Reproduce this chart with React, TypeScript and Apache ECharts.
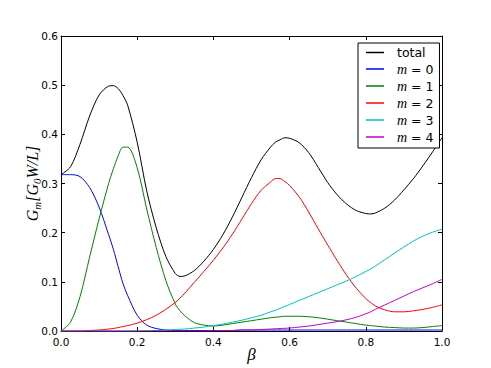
import React, { useEffect, useRef } from "react";
import * as echarts from "echarts";

const beta = [
  0, 0.025, 0.05, 0.075, 0.1, 0.125, 0.1375, 0.15, 0.1625, 0.175, 0.2, 0.225, 0.25, 0.275,
  0.3, 0.3125, 0.325, 0.35, 0.375, 0.4, 0.425, 0.45, 0.475, 0.5, 0.525, 0.55, 0.5625, 0.575,
  0.5875, 0.6, 0.625, 0.65, 0.675, 0.7, 0.725, 0.75, 0.775, 0.8, 0.8125, 0.825, 0.85, 0.875,
  0.9, 0.925, 0.95, 0.975, 1.0,
];

const total = [
  0.318, 0.334, 0.38, 0.437, 0.48, 0.498, 0.499, 0.493, 0.479, 0.459, 0.384, 0.285, 0.21,
  0.152, 0.117, 0.111, 0.112, 0.123, 0.142, 0.166, 0.196, 0.232, 0.272, 0.312, 0.348, 0.374,
  0.384, 0.389, 0.393, 0.392, 0.383, 0.363, 0.333, 0.302, 0.277, 0.258, 0.245, 0.239, 0.238,
  0.24, 0.25, 0.266, 0.287, 0.31, 0.336, 0.364, 0.393,
];

const m0 = [
  0.318, 0.318, 0.314, 0.292, 0.252, 0.196, 0.166, 0.131, 0.097, 0.072, 0.032, 0.012, 0.005,
  0.002, 0.001, 0.001, 0.001, 0.001, 0.001, 0.001, 0.001, 0.001, 0.002, 0.002, 0.002, 0.002,
  0.002, 0.002, 0.002, 0.002, 0.002, 0.002, 0.002, 0.002, 0.002, 0.002, 0.002, 0.002, 0.002,
  0.002, 0.002, 0.002, 0.002, 0.002, 0.002, 0.002, 0.002,
];

const m1 = [
  0, 0.018, 0.07, 0.15, 0.228, 0.3, 0.33, 0.356, 0.374, 0.374, 0.332, 0.248, 0.17, 0.103,
  0.055, 0.041, 0.031, 0.017, 0.012, 0.01, 0.012, 0.015, 0.018, 0.021, 0.024, 0.027, 0.028,
  0.029, 0.03, 0.03, 0.03, 0.029, 0.027, 0.024, 0.021, 0.018, 0.015, 0.012, 0.011, 0.01,
  0.008, 0.007, 0.006, 0.006, 0.007, 0.009, 0.011,
];

const m2 = [
  0, 0, 0, 0.001, 0.002, 0.004, 0.005, 0.007, 0.009, 0.011, 0.016, 0.023, 0.032, 0.044,
  0.058, 0.067, 0.077, 0.099, 0.121, 0.144, 0.169, 0.197, 0.228, 0.259, 0.286, 0.303, 0.31,
  0.31, 0.304, 0.296, 0.273, 0.242, 0.208, 0.175, 0.143, 0.113, 0.087, 0.066, 0.058, 0.051,
  0.043, 0.039, 0.039, 0.041, 0.044, 0.048, 0.053,
];

const m3 = [
  0, 0, 0, 0, 0, 0, 0, 0, 0, 0, 0, 0.0005, 0.001, 0.002, 0.003, 0.0035, 0.004, 0.006, 0.008,
  0.011, 0.014, 0.018, 0.022, 0.027, 0.032, 0.039, 0.042, 0.046, 0.05, 0.054, 0.062, 0.07,
  0.078, 0.086, 0.094, 0.102, 0.111, 0.121, 0.126, 0.132, 0.145, 0.158, 0.171, 0.183, 0.193,
  0.201, 0.207,
];

const m4 = [
  0, 0, 0, 0, 0, 0, 0, 0, 0, 0, 0, 0, 0, 0, 0, 0, 0, 0, 0, 0.0005, 0.001, 0.001, 0.002, 0.002,
  0.003, 0.004, 0.0045, 0.005, 0.0055, 0.006, 0.008, 0.01, 0.013, 0.016, 0.019, 0.023, 0.028,
  0.035, 0.039, 0.044, 0.053, 0.062, 0.071, 0.08, 0.088, 0.096, 0.105,
];

const seriesNames = ["total", "m = 0", "m = 1", "m = 2", "m = 3", "m = 4"];
const seriesValues = [total, m0, m1, m2, m3, m4];
const seriesColors = ["#000000", "#0000ff", "#008000", "#ff0000", "#00bfbf", "#bf00bf"];

const xTicks = { min: 0, max: 1, interval: 0.2 };
const yTicks = { min: 0, max: 0.6, interval: 0.1 };

const SANS = "'DejaVu Sans', sans-serif";
const SERIF = "'Liberation Serif', 'DejaVu Serif', serif";

export default function App() {
  const ref = useRef<HTMLDivElement>(null);

  useEffect(() => {
    if (!ref.current) return;
    const chart = echarts.init(ref.current, undefined, { renderer: "svg" });

    const tickStyle = { inside: true, length: 4, lineStyle: { color: "#000", width: 1 } };
    const lineStyle = { show: true, onZero: false, lineStyle: { color: "#000", width: 1 } };

    chart.setOption({
      animation: false,
      backgroundColor: "#ffffff",
      grid: {
        left: 61,
        right: 49,
        top: 36,
        bottom: 37,
        containLabel: false,
        outerBoundsMode: "none",
      },
      legend: {
        orient: "vertical",
        left: 358,
        top: 43,
        padding: [3, 6, 4, 8],
        itemGap: 3,
        itemWidth: 18,
        itemHeight: 1.5,
        icon: "rect",
        borderColor: "#000",
        borderWidth: 1,
        borderRadius: 0,
        backgroundColor: "#ffffff",
        data: seriesNames,
        formatter: (name: string) => {
          if (name === "total") return "{t|total}";
          const parts = name.split(" = ");
          return `{i|${parts[0]}}{n| = ${parts[1]}}`;
        },
        textStyle: {
          color: "#000",
          padding: [0, 0, 0, 8],
          rich: {
            t: { fontFamily: SANS, fontSize: 12.5, color: "#000", lineHeight: 14 },
            i: { fontFamily: SERIF, fontStyle: "italic", fontSize: 14, color: "#000", lineHeight: 14 },
            n: { fontFamily: SANS, fontSize: 12.5, color: "#000", lineHeight: 14 },
          },
        },
      },
      xAxis: [
        {
          type: "value",
          position: "bottom",
          ...xTicks,
          name: "β",
          nameLocation: "middle",
          nameGap: 15,
          nameMoveOverlap: false,
          nameTextStyle: { fontFamily: SERIF, fontStyle: "italic", fontSize: 17, color: "#000" },
          axisLine: lineStyle,
          axisTick: tickStyle,
          splitLine: { show: false },
          axisLabel: {
            margin: 5,
            color: "#000",
            fontFamily: SANS,
            fontSize: 10.5,
            formatter: (v: number) => v.toFixed(1),
          },
        },
        {
          type: "value",
          position: "top",
          ...xTicks,
          axisLine: lineStyle,
          axisTick: tickStyle,
          splitLine: { show: false },
          axisLabel: { show: false },
        },
      ],
      yAxis: [
        {
          type: "value",
          position: "left",
          ...yTicks,
          name: "{i|G}{s|m}{i|[G}{s|0}{i|W/L]}",
          nameLocation: "middle",
          nameGap: 21,
          nameMoveOverlap: false,
          nameTextStyle: {
            color: "#000",
            rich: {
              i: { fontFamily: SERIF, fontStyle: "italic", fontSize: 16, lineHeight: 16, verticalAlign: "top", color: "#000" },
              s: { fontFamily: SERIF, fontStyle: "italic", fontSize: 11, lineHeight: 11, padding: [7, 0, 0, 0], verticalAlign: "top", color: "#000" },
            },
          },
          axisLine: lineStyle,
          axisTick: tickStyle,
          splitLine: { show: false },
          axisLabel: {
            margin: 3,
            color: "#000",
            fontFamily: SANS,
            fontSize: 10.5,
            formatter: (v: number) => v.toFixed(1),
          },
        },
        {
          type: "value",
          position: "right",
          ...yTicks,
          axisLine: lineStyle,
          axisTick: tickStyle,
          splitLine: { show: false },
          axisLabel: { show: false },
        },
      ],
      series: seriesNames.map((name, k) => ({
        name,
        type: "line",
        xAxisIndex: 0,
        yAxisIndex: 0,
        data: beta.map((b, i) => [b, seriesValues[k][i]]),
        showSymbol: false,
        symbol: "none",
        smooth: 0.3,
        color: seriesColors[k],
        lineStyle: { color: seriesColors[k], width: 1 },
        z: 2 + k,
      })),
    });

    return () => chart.dispose();
  }, []);

  return (
    <div
      ref={ref}
      style={{ position: "absolute", left: 0, top: 0, width: 491, height: 368, background: "#fff" }}
    />
  );
}
